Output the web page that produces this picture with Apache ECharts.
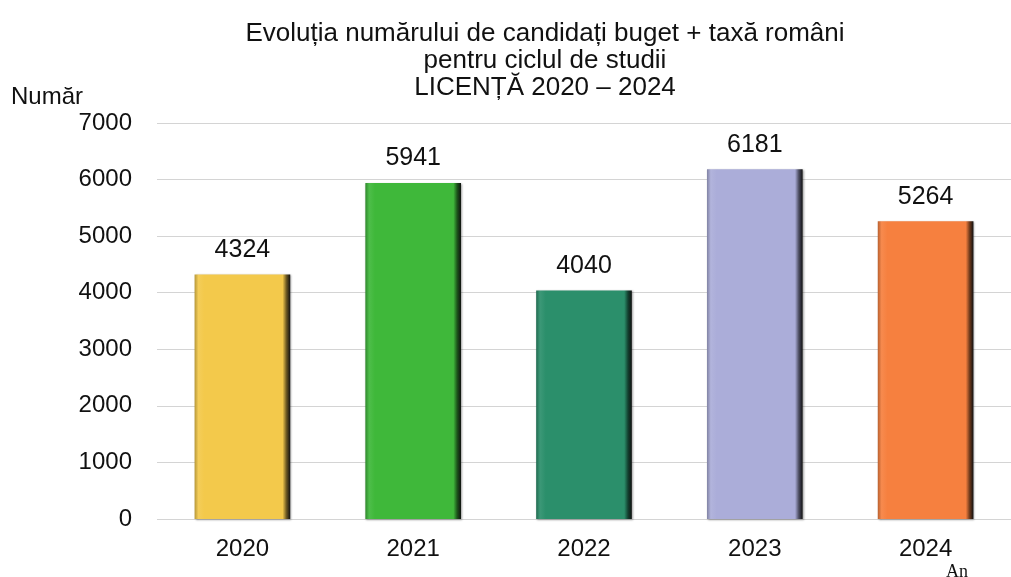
<!DOCTYPE html>
<html>
<head>
<meta charset="utf-8">
<script src="https://cdn.jsdelivr.net/npm/echarts@6/dist/echarts.min.js"></script>
<style>
  html, body { margin: 0; padding: 0; background: #fff; }
  #chart { width: 1011px; height: 577px; }
</style>
</head>
<body>
<div id="chart"></div>
<script>
  // date
  var years = ['2020', '2021', '2022', '2023', '2024'];
  var candidates = [4324, 5941, 4040, 6181, 5264];
  var barColors = ['#f3c94b', '#3fb83a', '#2b8f6b', '#abadd9', '#f6803f'];
  var yTicks = [0, 1000, 2000, 3000, 4000, 5000, 6000, 7000];

  var font = '"Liberation Sans", Arial, sans-serif';

  //amesteca o culoare cu alb (t>0) sau negru (t<0)
  function mix(hex, t) {
    var n = parseInt(hex.slice(1), 16);
    var rgb = [(n >> 16) & 255, (n >> 8) & 255, n & 255];
    var target = t > 0 ? 255 : 0;
    var k = Math.abs(t);
    var out = rgb.map(function (v) { return Math.round(v + (target - v) * k); });
    return 'rgb(' + out.join(',') + ')';
  }

  //gradient orizontal ca sa imite bara in relief
  function bevel(c) {
    return new echarts.graphic.LinearGradient(0, 0, 1, 0, [
      {offset: 0, color: mix(c, -0.25)},
      {offset: 0.04, color: mix(c, 0.08)},
      {offset: 0.1, color: c},
      {offset: 0.92, color: c},
      {offset: 0.96, color: mix(c, -0.55)},
      {offset: 1, color: '#111'}
    ]);
  }

  var barData = [];
  for (var i = 0; i < years.length; i++) {
    barData.push({
      value: candidates[i],
      itemStyle: {color: bevel(barColors[i])}
    });
  }

  var chart = echarts.init(document.getElementById('chart'), null, {renderer: 'canvas'});
  chart.setOption({
    animation: false,
    title: [
      {
        text: 'Evoluția numărului de candidați buget + taxă români\npentru ciclul de studii\nLICENȚĂ 2020 – 2024',
        left: 540,
        top: 15,
        textAlign: 'center',
        textStyle: {fontFamily: font, fontSize: 26, fontWeight: 'normal', color: '#111', lineHeight: 27}
      },
      {
        text: 'An',
        left: 941,
        top: 558,
        textStyle: {fontFamily: '"Liberation Serif", serif', fontSize: 18, fontWeight: 'normal', color: '#111'}
      }
    ],
    grid: {left: 157, top: 123, width: 868, height: 396, containLabel: false},
    xAxis: {
      type: 'category',
      data: years,
      axisLine: {show: false},
      axisTick: {show: false},
      axisLabel: {fontFamily: font, fontSize: 24, color: '#111', margin: 18}
    },
    yAxis: {
      type: 'value',
      min: yTicks[0],
      max: yTicks[yTicks.length - 1],
      interval: 1000,
      name: 'Număr',
      nameGap: 14,
      nameTextStyle: {fontFamily: font, fontSize: 24, color: '#111', align: 'right', padding: [0, 74, 0, 0]},
      axisLine: {show: false},
      axisTick: {show: false},
      axisLabel: {fontFamily: font, fontSize: 24, color: '#111', margin: 25, formatter: function (v) { return String(v); }},
      splitLine: {lineStyle: {color: '#d4d4d4', width: 1}}
    },
    series: [{
      type: 'bar',
      data: barData,
      barWidth: '56%',
      label: {
        show: true,
        position: 'top',
        distance: 12,
        fontFamily: font,
        fontSize: 25,
        color: '#111'
      },
      itemStyle: {
        shadowColor: 'rgba(0,0,0,0.35)',
        shadowBlur: 2,
        shadowOffsetX: 1,
        shadowOffsetY: 1
      }
    }]
  });
</script>
</body>
</html>
